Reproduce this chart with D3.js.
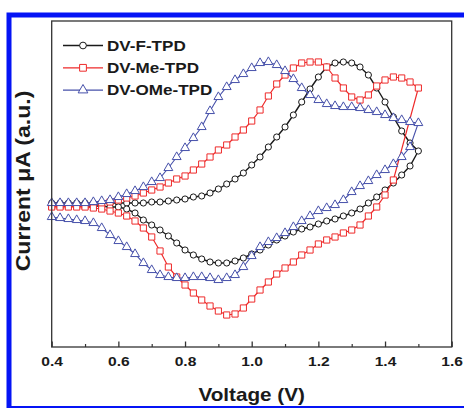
<!DOCTYPE html>
<html>
<head>
<meta charset="utf-8">
<script src="https://cdn.jsdelivr.net/npm/d3@7"></script>
<style>
  body { margin: 0; background: #fff; }
  svg { display: block; }
  text { font-family: Arial, "Liberation Sans", sans-serif; font-weight: bold; }
</style>
</head>
<body>
<svg id="chart" width="464" height="408"></svg>
<script>
"use strict";

// voltage grid of the scan (V), same for forward and reverse sweep
const voltage = [0.400, 0.425, 0.450, 0.475, 0.500, 0.525, 0.550, 0.575, 0.600, 0.625,
  0.650, 0.675, 0.700, 0.725, 0.750, 0.775, 0.800, 0.825, 0.850, 0.875,
  0.900, 0.925, 0.950, 0.975, 1.000, 1.025, 1.050, 1.075, 1.100, 1.125,
  1.150, 1.175, 1.200, 1.225, 1.250, 1.275, 1.300, 1.325, 1.350, 1.375,
  1.400, 1.425, 1.450, 1.475, 1.500];

// current (a.u.); reverse sweep listed in increasing voltage
const fForward = [2, 2, 2, 2, 2, 2, 2, 2, 2, 2, 2, 2, 3, 3, 4, 5, 6, 8, 9, 12,
  16, 21, 26, 32, 40, 48, 58, 68, 78, 90, 103, 116, 128, 138, 142, 143, 142, 138, 130, 117,
  103, 88, 74, 62, 54];
const fReverse = [-1, -1, -1, -1, -1, -1, -1, -2, -2, -4, -8, -15, -20, -25, -31, -38, -45, -50, -54, -57,
  -58, -58, -56, -53, -49, -45, -40, -35, -31, -27, -24, -22, -19, -16, -14, -11, -8, -4, 2, 8,
  15, 22, 30, 39, 54];

const meForward = [-1, -1, -1, -1, -1, 0, 1, 3, 5, 7, 9, 12, 15, 18, 22, 26, 29, 35, 41, 48,
  55, 60, 68, 75, 84, 95, 109, 121, 130, 137, 142, 143, 143, 138, 127, 117, 108, 105, 110, 119,
  125, 128, 127, 123, 117];
const meReverse = [-2, -2, -2, -2, -2, -3, -4, -6, -8, -11, -16, -23, -32, -46, -62, -72, -80, -88, -95, -101,
  -106, -110, -109, -103, -94, -85, -77, -69, -63, -57, -50, -45, -39, -35, -32, -28, -25, -20, -11, -2,
  10, 25, null, null, 117];

const omeForward = [2, 2, 2, 2, 2, 3, 4, 5, 8, 11, 14, 18, 23, 27, 37, 48, 57, 67, 78, 94,
  108, 118, 125, 131, 137, 142, 143, 140, 134, 126, 117, 110, 105, 101, 99, 98, 98, 97, 95, 93,
  90, 87, 85, 83, 82];
const omeReverse = [-12, -13, -14, -15, -16, -18, -23, -30, -36, -42, -49, -58, -65, -70, -72, -73, -73, -72, -72, -73,
  -75, -73, -70, -62, -51, -42, -37, -33, -28, -22, -16, -11, -6, -3, 0, 5, 13, 19, 24, 30,
  35, 41, 48, 58, 82];

const seriesNames = ["DV-F-TPD", "DV-Me-TPD", "DV-OMe-TPD"];
const majorTicks = [0.4, 0.6, 0.8, 1.0, 1.2, 1.4, 1.6];
const minorTicks = [0.5, 0.7, 0.9, 1.1, 1.3, 1.5];

const PLOT = { LEFT: 51.7, RIGHT: 451.7, TOP: 21, BOTTOM: 347 };
const FRAME_COLOR = "#333";
const TEXT_COLOR = "#1a1a1a";

const STYLES = [
  { color: "#1a1a1a", symbol: d3.symbolCircle, size: 30, width: 1.4 },
  { color: "#ee2a2a", symbol: d3.symbolSquare, size: 38, width: 1.2 },
  { color: "#4650aa", symbol: d3.symbolTriangle, size: 34, width: 1.1 }
];

const sweeps = [[fForward, fReverse], [meForward, meReverse], [omeForward, omeReverse]];

// forward sweep up to the vertex, then back down to 0.4 V
function buildLoop(fwd, rev) {
  const pts = voltage.map((v, i) => ({ v: v, c: fwd[i] }));
  for (let i = voltage.length - 2; i >= 0; i--) {
    if (rev[i] !== null) pts.push({ v: voltage[i], c: rev[i] });
  }
  return pts;
}

const svg = d3.select("#chart");

// blue page border
svg.append("rect")
  .attr("x", 9).attr("y", 15)
  .attr("width", 470).attr("height", 393.5)
  .attr("fill", "none").attr("stroke", "#0514f5").attr("stroke-width", 5);

const x = d3.scaleLinear().domain([0.4, 1.6]).range([PLOT.LEFT, PLOT.RIGHT]);
const y = d3.scaleLinear().domain([-142, 184]).range([PLOT.BOTTOM, PLOT.TOP]);

const line = d3.line().x(d => x(d.v)).y(d => y(d.c));

sweeps.forEach((s, k) => {
  const st = STYLES[k];
  const pts = buildLoop(s[0], s[1]);
  const g = svg.append("g");
  g.append("path").datum(pts)
    .attr("d", line)
    .attr("fill", "none").attr("stroke", st.color).attr("stroke-width", st.width);
  g.selectAll("path.marker").data(pts).enter().append("path")
    .attr("class", "marker")
    .attr("transform", d => `translate(${x(d.v)},${y(d.c)})`)
    .attr("d", d3.symbol().type(st.symbol).size(st.size))
    .attr("fill", "#fff").attr("stroke", st.color).attr("stroke-width", 1);
});

// frame
svg.append("rect")
  .attr("x", PLOT.LEFT).attr("y", PLOT.TOP)
  .attr("width", PLOT.RIGHT - PLOT.LEFT).attr("height", PLOT.BOTTOM - PLOT.TOP)
  .attr("fill", "none").attr("stroke", FRAME_COLOR).attr("stroke-width", 1.3);

// x axis, ticks pointing inward
const xAxis = svg.append("g").attr("transform", `translate(0,${PLOT.BOTTOM})`)
  .call(d3.axisBottom(x).tickValues(majorTicks).tickSizeInner(-5.5).tickSizeOuter(0)
    .tickPadding(10).tickFormat(d3.format(".1f")));
xAxis.select(".domain").remove();
xAxis.selectAll("line").attr("stroke", FRAME_COLOR).attr("stroke-width", 1.3);
xAxis.selectAll("text")
  .attr("font-size", 13).attr("fill", TEXT_COLOR)
  .attr("transform", "scale(1.2,1)");

const xMinor = svg.append("g").attr("transform", `translate(0,${PLOT.BOTTOM})`)
  .call(d3.axisBottom(x).tickValues(minorTicks).tickSizeInner(-3).tickSizeOuter(0).tickFormat(""));
xMinor.select(".domain").remove();
xMinor.selectAll("line").attr("stroke", FRAME_COLOR).attr("stroke-width", 1.2);

// axis titles
svg.append("text")
  .attr("transform", `translate(${(PLOT.LEFT + PLOT.RIGHT) / 2},401) scale(1.15,1)`)
  .attr("text-anchor", "middle").attr("font-size", 18).attr("fill", TEXT_COLOR)
  .text("Voltage (V)");

svg.append("text")
  .attr("transform", "translate(30,181) rotate(-90) scale(1.15,1)")
  .attr("text-anchor", "middle").attr("font-size", 20).attr("fill", TEXT_COLOR)
  .text("Current \u03bcA (a.u.)");

// legend
const LEGEND = { X1: 63, X2: 103, TEXT_X: 107, Y0: 45.5, STEP: 22.3 };
seriesNames.forEach((name, k) => {
  const st = STYLES[k];
  const cy = LEGEND.Y0 + LEGEND.STEP * k;
  const g = svg.append("g");
  g.append("line")
    .attr("x1", LEGEND.X1).attr("x2", LEGEND.X2).attr("y1", cy).attr("y2", cy)
    .attr("stroke", st.color).attr("stroke-width", st.width);
  g.append("path")
    .attr("transform", `translate(${(LEGEND.X1 + LEGEND.X2) / 2},${cy})`)
    .attr("d", d3.symbol().type(st.symbol).size(st.size * 1.2))
    .attr("fill", "#fff").attr("stroke", st.color).attr("stroke-width", 1);
  g.append("text")
    .attr("transform", `translate(${LEGEND.TEXT_X},${cy + 5}) scale(1.22,1)`)
    .attr("font-size", 14).attr("fill", TEXT_COLOR)
    .text(name);
});
</script>
</body>
</html>
